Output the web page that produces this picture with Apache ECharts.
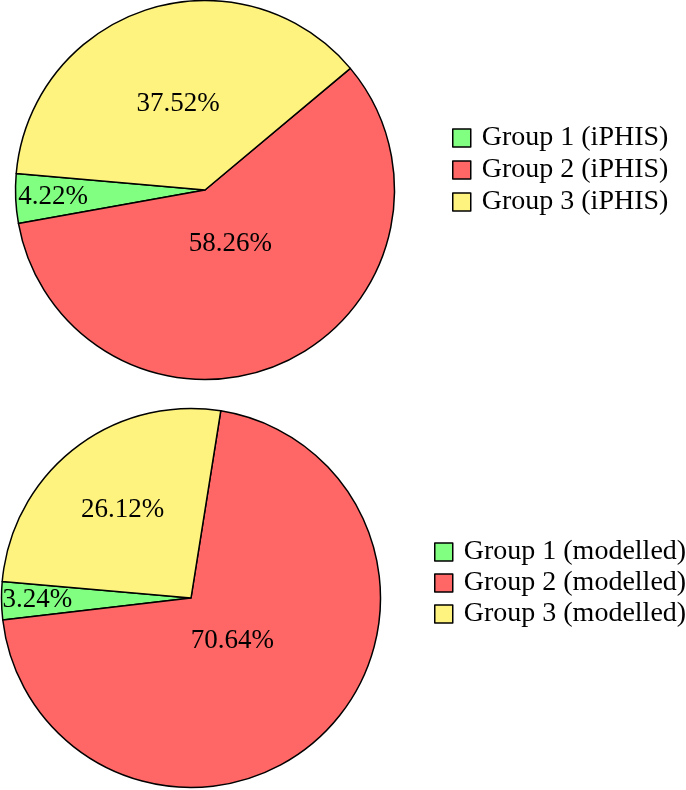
<!DOCTYPE html>
<html>
<head>
<meta charset="utf-8">
<script src="https://cdn.jsdelivr.net/npm/echarts@6/dist/echarts.min.js"></script>
<style>
  html, body { margin: 0; padding: 0; background: #fff; }
  #chartBox { width: 686px; height: 790px; }
</style>
</head>
<body>
<div id="chartBox"></div>
<script>
// data
const groups = ['Group 1', 'Group 2', 'Group 3'];
const iphisShare = [4.22, 58.26, 37.52];
const modelledShare = [3.24, 70.64, 26.12];
const sliceColors = ['#80ff80', '#ff6666', '#fff380'];

const START = 175;
const FONT = '"Liberation Serif", "DejaVu Serif", serif';

// pgf-pie style label placement: small slices put the number further out
function labelOffsets(values, startAngle, radius) {
  const total = values.reduce((a, b) => a + b, 0);
  let a = startAngle;
  return values.map(v => {
    const sweep = v / total * 360;
    const mid = a + sweep / 2;
    a += sweep;
    const f = 0.8 + Math.max(Math.min((sweep - 10) / 110 * -0.3, 0), -0.5);
    const d = (f - 0.5) * radius;
    const rad = mid * Math.PI / 180;
    return [d * Math.cos(rad), -d * Math.sin(rad)];
  });
}

function makePie(values, suffix, center, radius) {
  const offs = labelOffsets(values, START, radius);
  return {
    type: 'pie',
    center: center,
    radius: radius,
    startAngle: START,
    clockwise: false,
    animation: false,
    silent: true,
    itemStyle: { borderColor: '#000', borderWidth: 1.5 },
    label: {
      show: true,
      position: 'inside',
      color: '#000',
      fontFamily: FONT,
      fontSize: 27,
      formatter: p => p.value.toFixed(2) + '%'
    },
    labelLine: { show: false },
    emphasis: { disabled: true },
    data: values.map((v, i) => ({
      name: groups[i] + ' (' + suffix + ')',
      value: v,
      itemStyle: { color: sliceColors[i] },
      label: { offset: offs[i] }
    }))
  };
}

function makeLegend(suffix, left, top, gap) {
  return {
    orient: 'vertical',
    left: left,
    top: top,
    itemWidth: 18,
    itemHeight: 18,
    itemGap: gap,
    icon: 'rect',
    selectedMode: false,
    itemStyle: { borderColor: '#000', borderWidth: 1.5 },
    textStyle: { color: '#000', fontFamily: FONT, fontSize: 28, lineHeight: 24, padding: [0, 0, 0, 6] },
    data: groups.map(g => g + ' (' + suffix + ')')
  };
}

const chart = echarts.init(document.getElementById('chartBox'));
chart.setOption({
  animation: false,
  legend: [makeLegend('iPHIS', 447, 119, 4), makeLegend('modelled', 429, 533, 3)],
  series: [
    makePie(iphisShare, 'iPHIS', [205, 190], 189.5),
    makePie(modelledShare, 'modelled', [191, 598], 189.5)
  ]
});
</script>
</body>
</html>
